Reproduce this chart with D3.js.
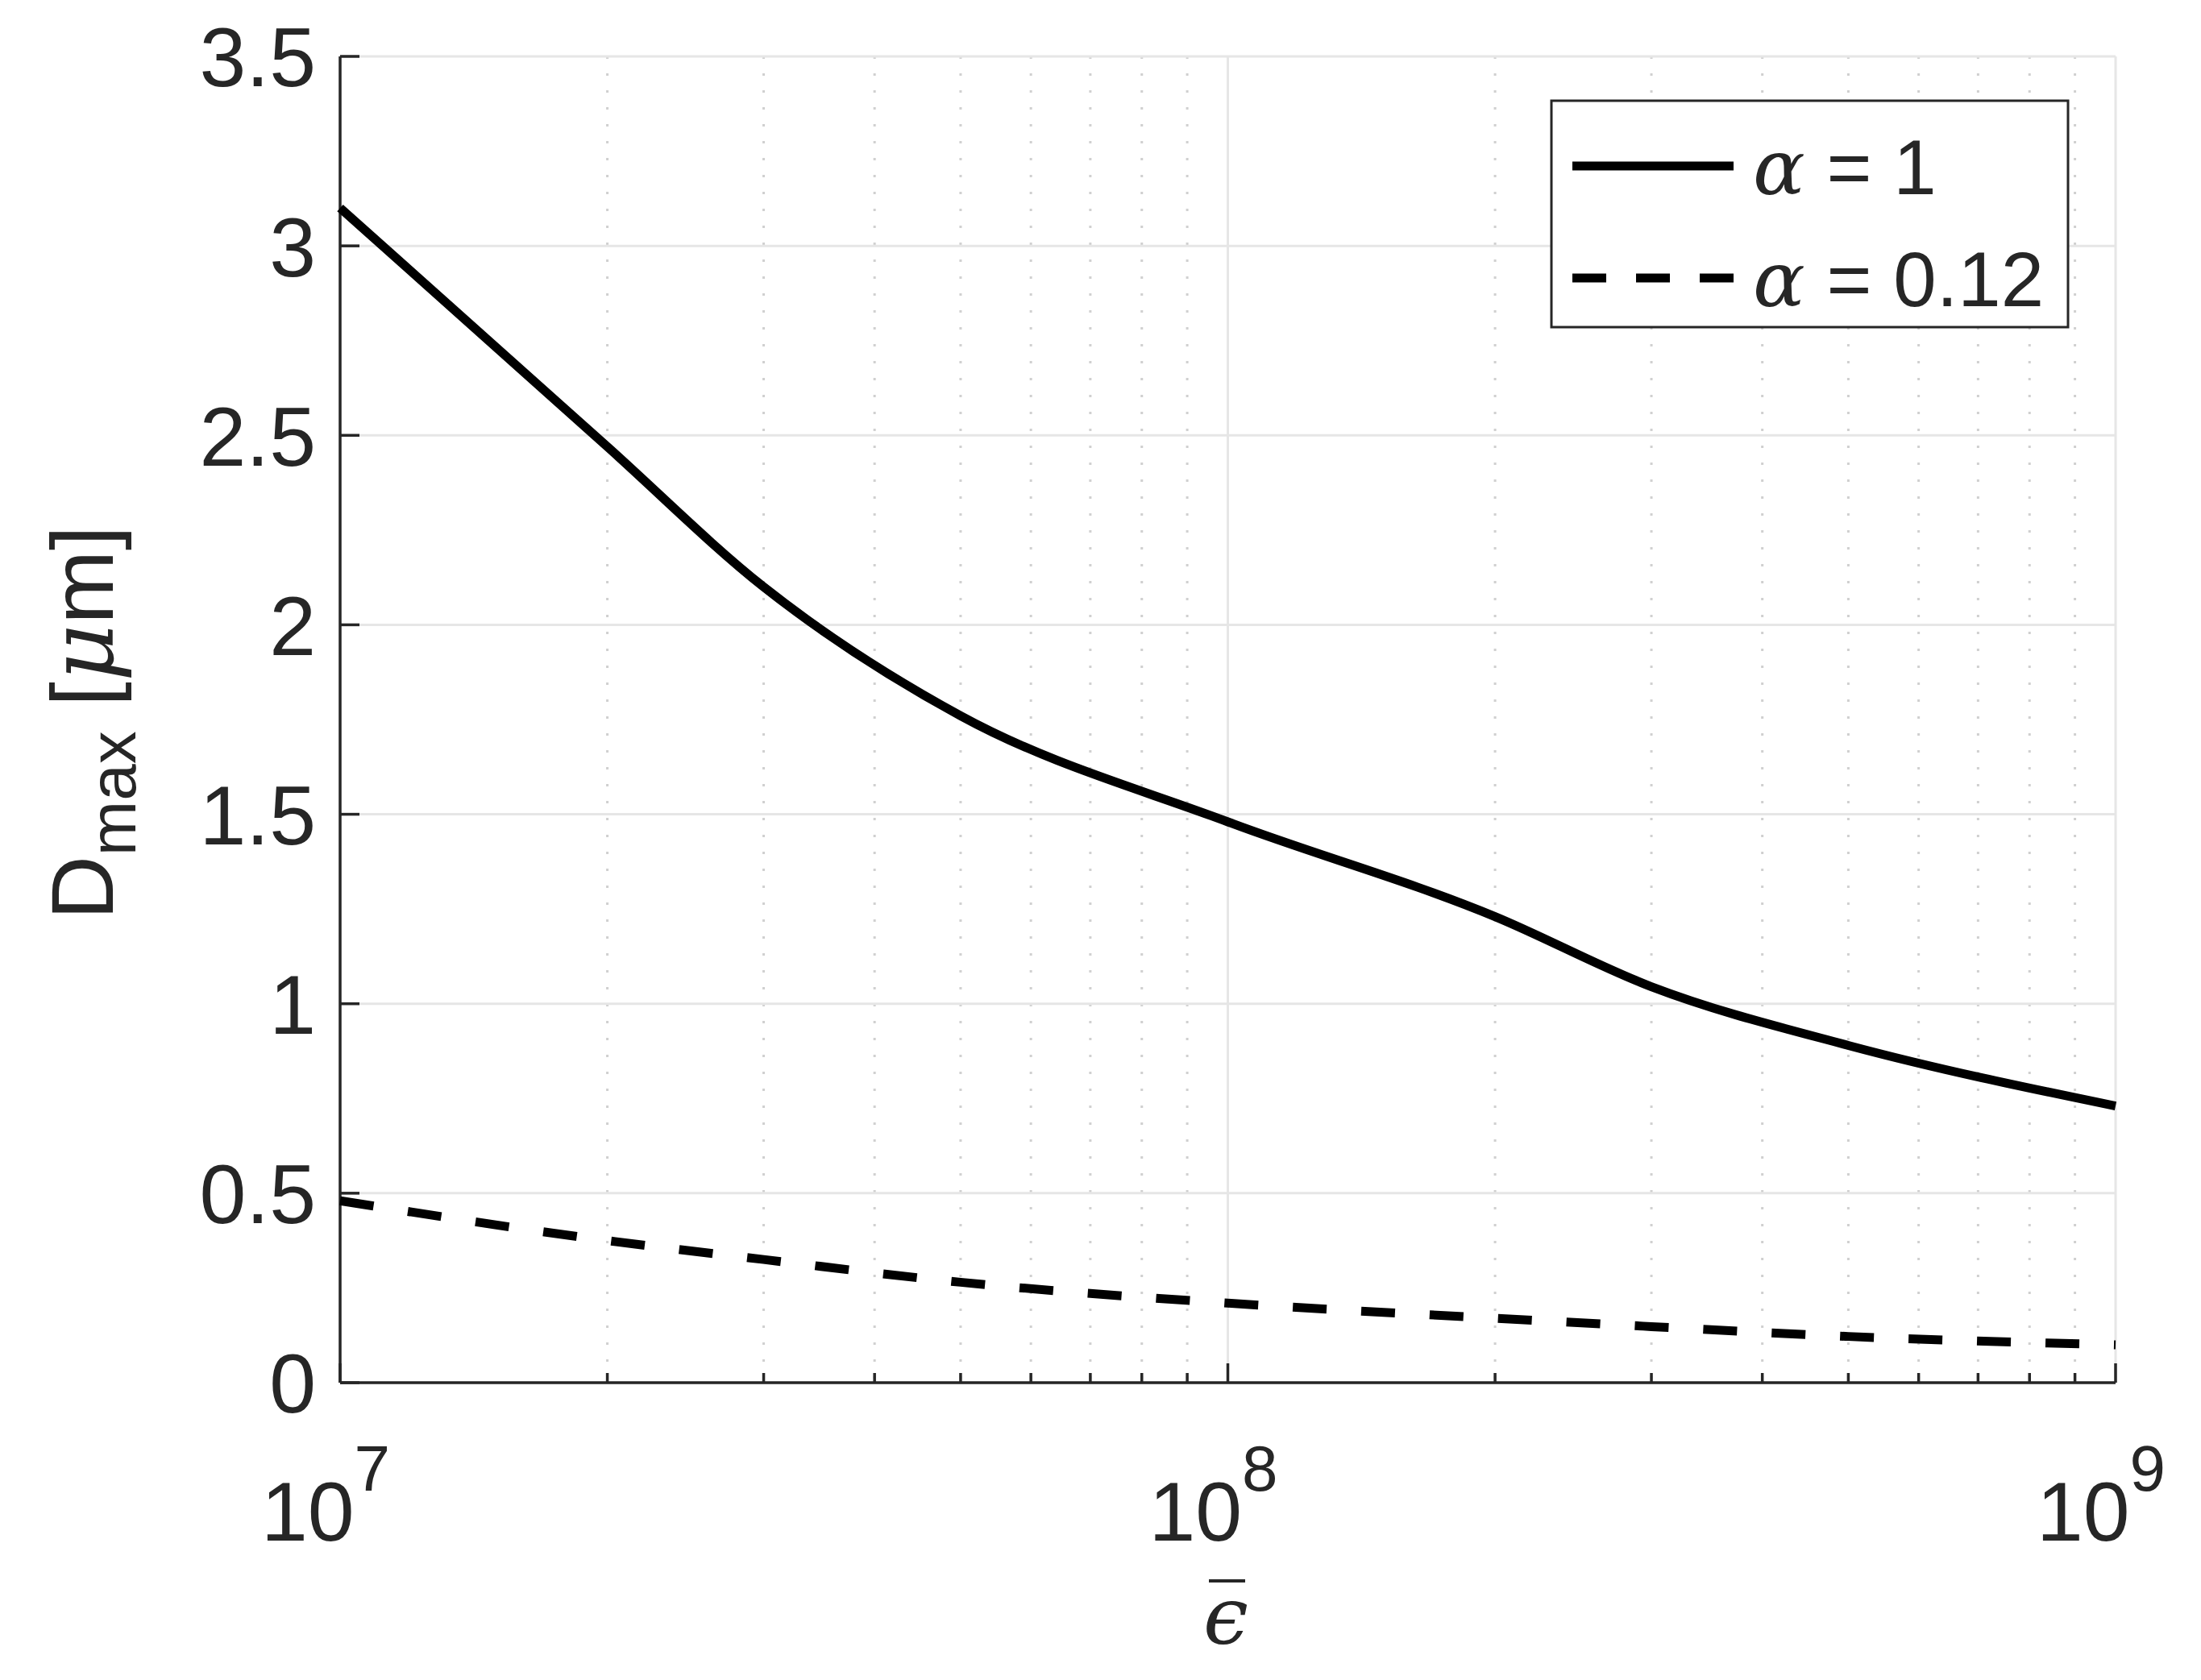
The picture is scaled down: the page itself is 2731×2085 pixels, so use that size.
<!DOCTYPE html>
<html><head><meta charset="utf-8">
<script src="https://cdn.jsdelivr.net/npm/d3@7"></script>
<style>body{margin:0;background:#fff}</style></head>
<body><svg id="c" width="2731" height="2085"></svg>
<script>
const epsValues = [1e7, 2e7, 3e7, 5e7, 1e8, 2e8, 3e8, 5e8, 1e9];
const alpha1 = [3.10, 2.47, 2.10, 1.76, 1.48, 1.23, 1.045, 0.89, 0.73];
const alpha012 = [0.48, 0.375, 0.325, 0.265, 0.21, 0.17, 0.148, 0.122, 0.10];
const yTicks = [0, 0.5, 1, 1.5, 2, 2.5, 3, 3.5];
const xTickExps = [7, 8, 9];
const legendLabels = ["α = 1", "α = 0.12"];

const svg = d3.select("#c");
const L = 422, R = 2625, T = 70, B = 1716;
const x = d3.scaleLog().domain([1e7, 1e9]).range([L, R]);
const y = d3.scaleLinear().domain([0, 3.5]).range([B, T]);
const font = "Arial, 'Liberation Sans', sans-serif";
const axisCol = "#262626";

// minor grid
const minors = [];
for (let e = 7; e < 9; e++) for (let m = 2; m <= 9; m++) minors.push(m * Math.pow(10, e));
svg.append("g").selectAll("line").data(minors).join("line")
  .attr("x1", d => x(d)).attr("x2", d => x(d)).attr("y1", T).attr("y2", B)
  .attr("stroke", "#d0d0d0").attr("stroke-width", 3).attr("stroke-dasharray", "3,18");
// major grid
svg.append("g").selectAll("line").data(xTickExps).join("line")
  .attr("x1", d => x(Math.pow(10, d))).attr("x2", d => x(Math.pow(10, d))).attr("y1", T).attr("y2", B)
  .attr("stroke", "#e6e6e6").attr("stroke-width", 3);
svg.append("g").selectAll("line").data(yTicks).join("line")
  .attr("x1", L).attr("x2", R).attr("y1", d => y(d)).attr("y2", d => y(d))
  .attr("stroke", "#e6e6e6").attr("stroke-width", 3);

// axes
const ax = svg.append("g").attr("stroke", axisCol).attr("stroke-width", 3.5);
ax.append("line").attr("x1", L).attr("x2", L).attr("y1", T).attr("y2", B);
ax.append("line").attr("x1", L).attr("x2", R).attr("y1", B).attr("y2", B);
yTicks.forEach(t => ax.append("line").attr("x1", L).attr("x2", L + 24).attr("y1", y(t)).attr("y2", y(t)));
xTickExps.forEach(e => ax.append("line").attr("x1", x(Math.pow(10, e))).attr("x2", x(Math.pow(10, e))).attr("y1", B).attr("y2", B - 24));
minors.forEach(m => ax.append("line").attr("x1", x(m)).attr("x2", x(m)).attr("y1", B).attr("y2", B - 12));

// tick labels
svg.append("g").selectAll("text").data(yTicks).join("text")
  .attr("x", L - 30).attr("y", d => y(d)).attr("dy", "0.36em")
  .attr("text-anchor", "end").attr("font-family", font).attr("font-size", 104).attr("fill", axisCol)
  .text(d => d);
xTickExps.forEach(e => {
  const t = svg.append("text").attr("x", x(Math.pow(10, e)) - 18).attr("y", B + 196)
    .attr("text-anchor", "middle").attr("font-family", font).attr("font-size", 104).attr("fill", axisCol);
  t.append("tspan").text("10");
  t.append("tspan").attr("dy", -62).attr("font-size", 80).text(e);
});

// axis labels
const yl = svg.append("text").attr("transform", "translate(140,897) rotate(-90)")
  .attr("text-anchor", "middle").attr("font-family", font).attr("font-size", 110).attr("fill", axisCol);
yl.append("tspan").text("D");
yl.append("tspan").attr("dy", 28).attr("font-size", 82).text("max");
yl.append("tspan").attr("dy", -28).text(" [");
yl.append("tspan").attr("font-style", "italic").attr("font-family", "'DejaVu Serif', serif").text("μ");
yl.append("tspan").text("m]");
const xl = svg.append("text").attr("x", 1521).attr("y", 2040).attr("text-anchor", "middle")
  .attr("font-family", "'DejaVu Serif', serif").attr("font-style", "italic").attr("font-size", 100).attr("fill", axisCol).text("ϵ");
svg.append("line").attr("x1", 1500).attr("x2", 1545).attr("y1", 1962).attr("y2", 1962).attr("stroke", axisCol).attr("stroke-width", 4);

// lines
const line = d3.line().x(d => x(d[0])).y(d => y(d[1])).curve(d3.curveMonotoneX);
svg.append("path").attr("d", line(epsValues.map((e, i) => [e, alpha1[i]])))
  .attr("fill", "none").attr("stroke", "#000").attr("stroke-width", 11);
svg.append("path").attr("d", line(epsValues.map((e, i) => [e, alpha012[i]])))
  .attr("fill", "none").attr("stroke", "#000").attr("stroke-width", 11).attr("stroke-dasharray", "42,43");

// legend
svg.append("rect").attr("x", 1925).attr("y", 125).attr("width", 641).attr("height", 281)
  .attr("fill", "#fff").attr("stroke", axisCol).attr("stroke-width", 3);
legendLabels.forEach((lab, i) => {
  const ly = 206 + i * 139;
  svg.append("line").attr("x1", 1951).attr("x2", 2151).attr("y1", ly).attr("y2", ly)
    .attr("stroke", "#000").attr("stroke-width", 11).attr("stroke-dasharray", i ? "42,37" : null);
  const t = svg.append("text").attr("x", 2175).attr("y", ly).attr("dy", "0.36em")
    .attr("font-family", font).attr("font-size", 96).attr("fill", axisCol);
  t.append("tspan").attr("font-family", "'DejaVu Serif', serif").attr("font-style", "italic").text("α");
  t.append("tspan").text(lab.slice(1));
});
</script></body></html>
